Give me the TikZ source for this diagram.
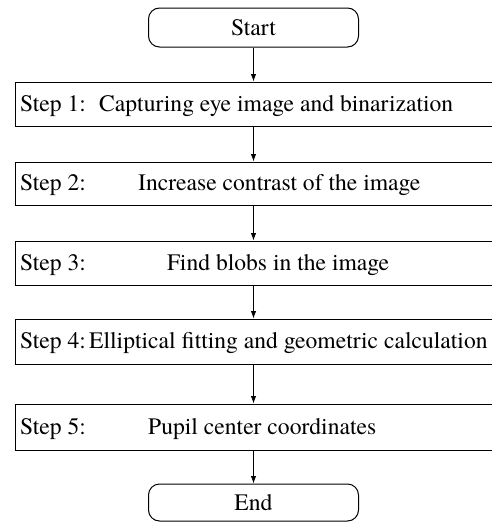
\documentclass[tikz,border=0pt]{standalone}
\usepackage{fontspec}
\newfontfamily\tnr{texgyretermes-regular.otf}
\usetikzlibrary{arrows.meta}
\begin{document}
\begin{tikzpicture}[x=1pt,y=1pt,
  term/.style={draw, rounded corners=11pt, minimum width=210pt, minimum height=39pt, inner sep=0pt, line width=1pt, font=\tnr\fontsize{23.6}{28}\selectfont},
  stepbox/.style={draw, minimum width=477pt, minimum height=44pt, inner sep=0pt, line width=1pt},
  lbl/.style={anchor=west, inner sep=0pt, text height=16pt, text depth=2pt, font=\tnr\fontsize{23.6}{28}\selectfont},
  arr/.style={-{Latex[length=7.5pt,width=5.5pt]}, line width=0.8pt}]
\useasboundingbox (0,0) rectangle (492,-522);
\node[term] (start) at (253.5,-27.5) {Start};
\node[stepbox] (s1) at (253.5,-104) {};
\node[stepbox, minimum height=43pt] (s2) at (253.5,-183.5) {};
\node[stepbox] (s3) at (253.5,-263) {};
\node[stepbox, minimum height=45pt] (s4) at (253.5,-341.5) {};
\node[stepbox, minimum height=46pt] (s5) at (253.5,-427) {};
\node[term, minimum height=37pt] (end) at (253.5,-502.5) {End};
\node[lbl] (s1k) at (20,-104) {Step 1:};
\node[lbl] (s1t) at (99,-104) {Capturing eye image and binarization};
\node[lbl] (s2k) at (20,-183.5) {Step 2:};
\node[lbl] (s2t) at (138,-183.5) {Increase contrast of the image};
\node[lbl] (s3k) at (20,-263) {Step 3:};
\node[lbl] (s3t) at (167,-263) {Find blobs in the image};
\node[lbl] (s4k) at (20,-341.5) {Step 4:};
\node[lbl] (s4t) at (89,-341.5) {Elliptical fitting and geometric calculation};
\node[lbl] (s5k) at (20,-427) {Step 5:};
\node[lbl] (s5t) at (148,-427) {Pupil center coordinates};
\draw[arr] (start.south) -- (s1.north);
\draw[arr] (s1.south) -- (s2.north);
\draw[arr] (s2.south) -- (s3.north);
\draw[arr] (s3.south) -- (s4.north);
\draw[arr] (s4.south) -- (s5.north);
\draw[arr] (s5.south) -- (end.north);
\end{tikzpicture}
\end{document}
